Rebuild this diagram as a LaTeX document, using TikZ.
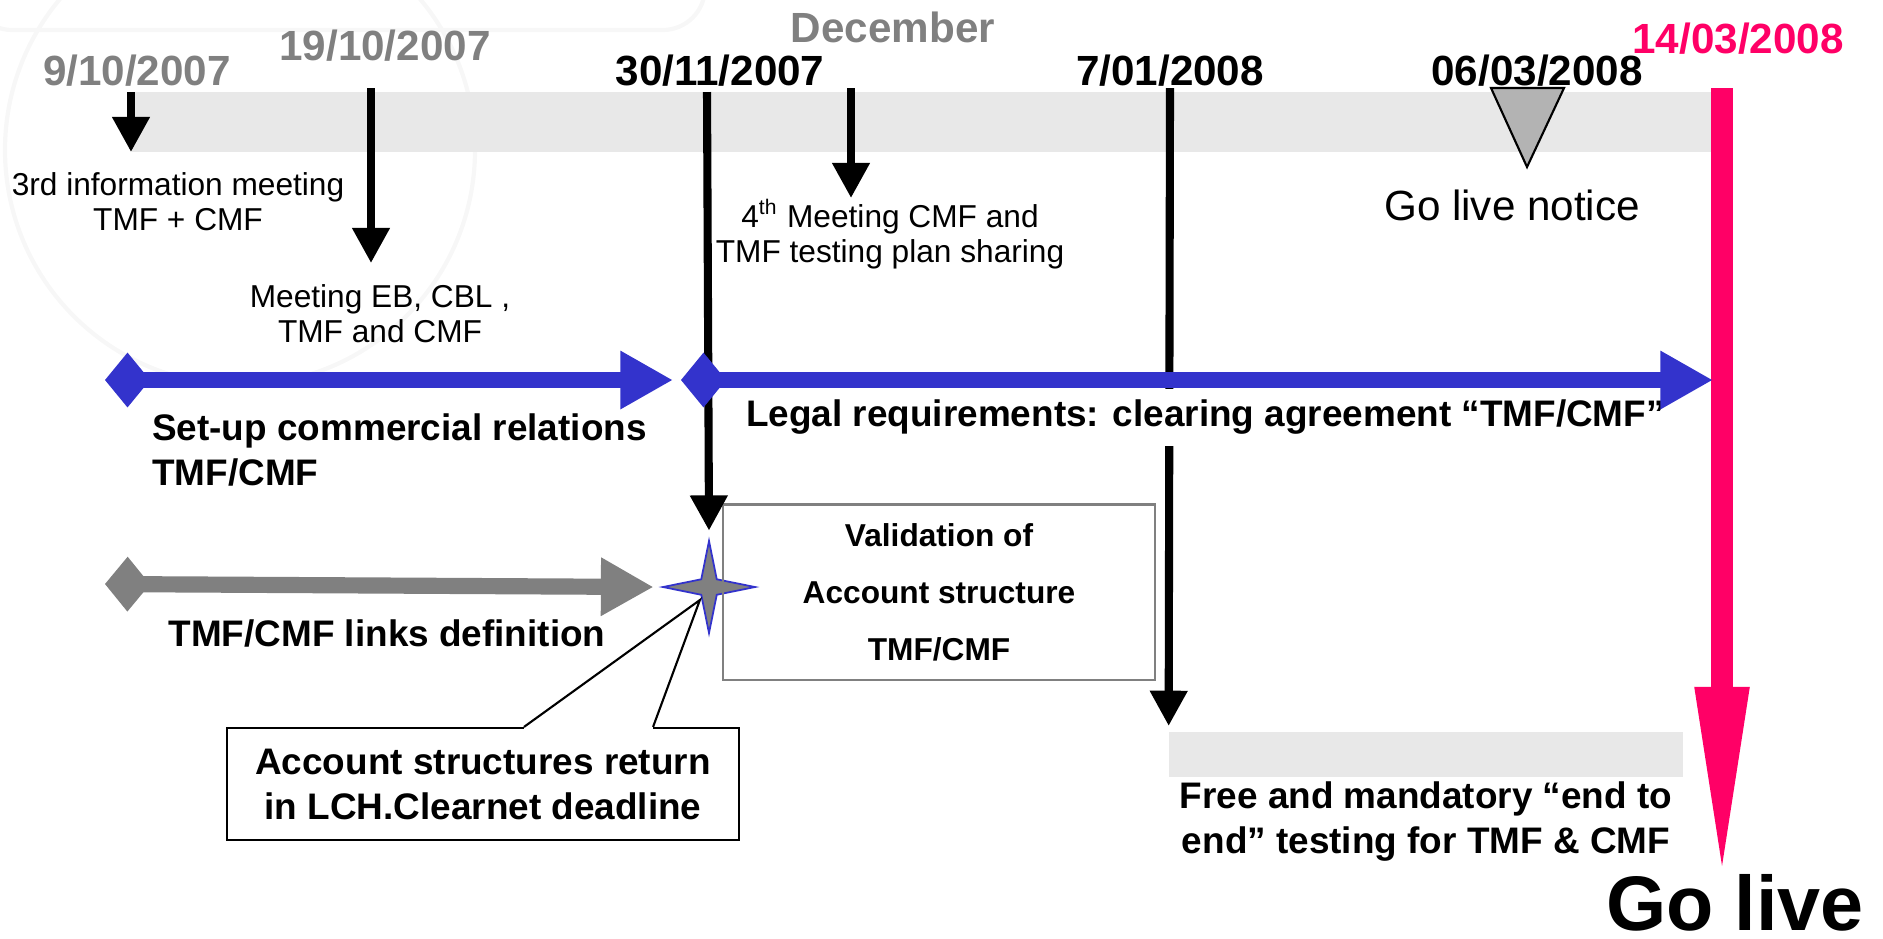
\documentclass[tikz,border=0pt]{standalone}
\usepackage{fontspec}
\setmainfont{Liberation Sans}
\usepackage{tikz}
\usetikzlibrary{arrows.meta, positioning, shapes.geometric}
\definecolor{bandgray}{HTML}{E8E8E8}
\definecolor{datagray}{HTML}{808080}
\definecolor{noticegray}{HTML}{B3B3B3}
\definecolor{tlblue}{HTML}{3333CC}
\definecolor{golive}{HTML}{FF0066}
\tikzset{
  datelbl/.style={font=\fontsize{12}{14}\selectfont\bfseries, anchor=base, inner sep=0pt},
  evtext/.style={font=\fontsize{9}{10}\selectfont, align=center, inner sep=1pt},
  phaselbl/.style={font=\fontsize{10.5}{12.8}\selectfont\bfseries, inner sep=1pt},
  evarrow/.style={line width=2.3pt, -{Triangle[width=10.2pt,length=10pt]}},
  phasearrow/.style={line width=4.3pt, {Diamond[width=15.6pt,length=12.8pt]}-{Triangle[width=15.6pt,length=15pt]}},
  barbox/.style={fill=bandgray, inner sep=0pt},
}

\begin{document}
\begin{tikzpicture}[x=0.01cm, y=-0.01cm]
  \useasboundingbox (0,0) rectangle (1883,938);
  % faint watermark
  \draw[gray!6, line width=1.2pt] (240,150) circle (235);
  \draw[gray!6, line width=1.2pt, rounded corners=12pt] (-30,-80) rectangle (705,30);

  % time band and dates
  \node[barbox, minimum width=15.88cm, minimum height=0.6cm] (band) at (926,122) {};
  \node[datelbl, text=datagray] (d1) at (137,85) {9/10/2007};
  \node[datelbl, text=datagray] (d2) at (385,60) {19/10/2007};
  \node[datelbl, text=datagray] (dec) at (893,42) {December};
  \node[datelbl] (d3) at (720,85) {30/11/2007};
  \node[datelbl] (d4) at (1170,85) {7/01/2008};
  \node[datelbl] (d5) at (1537,85) {06/03/2008};
  \node[datelbl, text=golive] (d6) at (1738,53) {14/03/2008};

  % events
  \node[evtext] (m1) at (178,202) {3rd information meeting\\TMF + CMF};
  \node[evtext] (m2) at (380,314) {Meeting EB, CBL ,\\TMF and CMF};
  \node[evtext] (m3) at (890,234) {4\textsuperscript{th} Meeting CMF and\\TMF testing plan sharing};
  \node[font=\fontsize{12}{14}\selectfont] (notice) at (1512,205) {Go live notice};
  \filldraw[fill=noticegray, draw=black, line width=0.6pt] (1491,88) -- (1564,88) -- (1527,167) -- cycle;

  \coordinate (a1) at (131,92);  \coordinate (b1) at (131,152);
  \coordinate (a2) at (371,88);  \coordinate (b2) at (371,263);
  \coordinate (a3) at (707,92);
  \coordinate (a4) at (851,88);  \coordinate (b4) at (851,198);
  \coordinate (a5) at (1170,88);
  \coordinate (gl0) at (1722,88); \coordinate (gl1) at (1722,887);

  \node[star, star points=4, star point ratio=4.2, minimum size=0.92cm, inner sep=0pt,
        fill=datagray, draw=tlblue, line width=0.5pt] (star) at (709,587) {};
  \node[draw=datagray, line width=0.6pt, minimum width=4.32cm, minimum height=1.75cm, align=center,
        font=\fontsize{9}{16.2}\selectfont\bfseries] (valid) at (939,592) {Validation of\\Account structure\\TMF/CMF};
  \node[barbox, minimum width=5.13cm, minimum height=0.45cm] (testbar) at (1426,754) {};
  \node[phaselbl, align=center, below=0pt of testbar] (test) {Free and mandatory “end to\\end” testing for TMF \& CMF};

  \draw[evarrow] (a1) -- (b1);
  \draw[evarrow] (a2) -- (b2);
  \draw[evarrow] (a3) -- ([yshift=1.7pt]star.north);
  \draw[evarrow] (a4) -- (b4);
  \draw[evarrow] (a5) -- ([yshift=1.4pt]testbar.north west);

  % phases
  \node[phaselbl, fill=white, anchor=west, minimum height=0.57cm] (legal) at (742,417)
    {Legal requirements: clearing agreement “TMF/CMF”};
  \node[phaselbl, anchor=west, align=left] (setup) at (148,450) {Set-up commercial relations\\TMF/CMF};
  \node[phaselbl] (links) at (387,633) {TMF/CMF links definition};

  \draw[line width=6.5pt, golive, -{Triangle[width=13.7pt,length=56.9pt]}] (gl0) -- (gl1);
  \node[font=\fontsize{22}{26}\selectfont\bfseries, anchor=base, inner sep=0pt] (golive) at (1735,930) {Go live};

  \coordinate (sA) at (105,380); \coordinate (eA) at (673,380);
  \coordinate (sB) at (681,380); \coordinate (eB) at (1713,380);
  \coordinate (sC) at (105,584);
  \draw[phasearrow, tlblue] (sA) -- (eA);
  \draw[phasearrow, tlblue] (sB) -- (eB);
  \draw[phasearrow, datagray, line width=4.6pt] (sC) -- ([xshift=-1.4pt]star.west);

  % deadline callout
  \node[draw, line width=0.6pt, minimum width=5.12cm, minimum height=1.12cm, align=center,
        font=\fontsize{10.5}{12.8}\selectfont\bfseries] (deadline) at (483,784)
    {Account structures return\\in LCH.Clearnet deadline};
  \coordinate (p1) at ([xshift=2.98cm]deadline.north west);
  \coordinate (p2) at ([xshift=4.27cm]deadline.north west);
  \coordinate (tip) at ([xshift=-2.6pt,yshift=-3.7pt]star.center);
  \draw[white, line width=1pt] (p1) -- (p2);
  \draw[line width=0.6pt, line join=miter] (p1) -- (tip) -- (p2);
\end{tikzpicture}
\end{document}
